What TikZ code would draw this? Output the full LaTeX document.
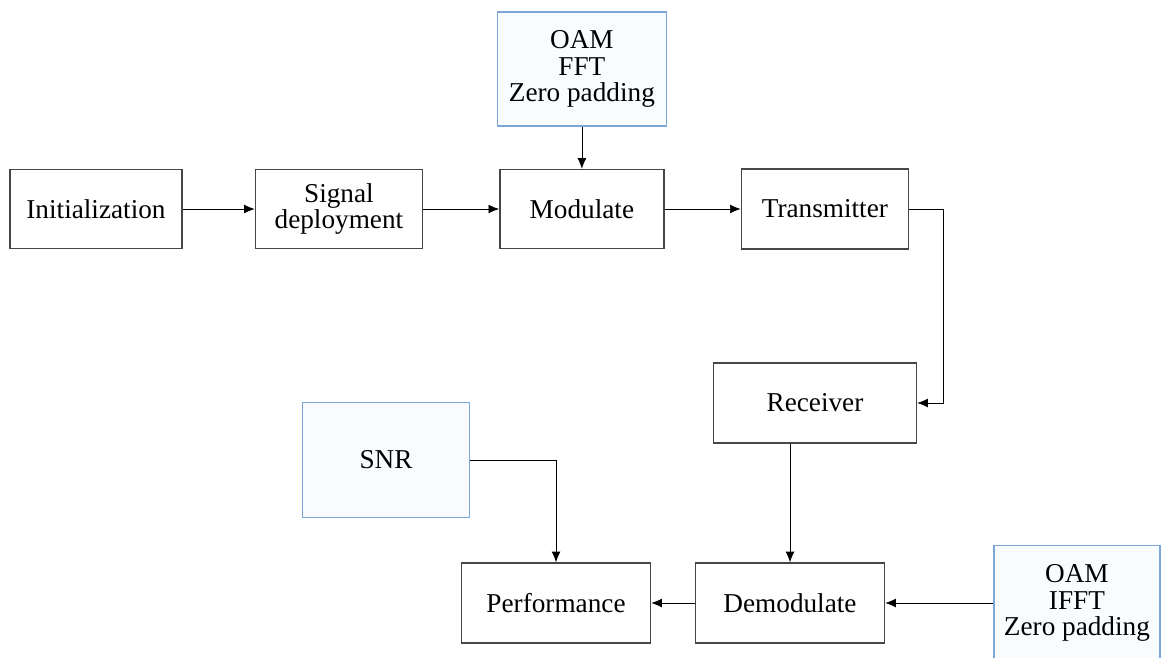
\documentclass[tikz,border=0pt]{standalone}
\usepackage{fontspec}
\setmainfont{Liberation Serif}
\usetikzlibrary{shapes, arrows.meta, positioning}
\definecolor{boxline}{RGB}{70,70,70}
\definecolor{noteline}{RGB}{125,165,215}
\definecolor{notefill}{RGB}{249,252,255}
\tikzstyle{block}=[draw=boxline,line width=0.9pt,fill=white,rectangle,minimum height=1.58cm,inner sep=0pt,align=center]
\tikzstyle{note}=[draw=noteline,line width=0.8pt,fill=notefill,rectangle,minimum height=2.3cm,inner sep=0pt,align=center]
\tikzstyle{every node}=[font=\fontsize{15.5}{15}\selectfont]

\begin{document}
\begin{tikzpicture}[x=0.02cm,y=-0.02cm,>={Latex[length=6pt,width=5pt]},node distance=4.86cm]
  \clip (0,0) rectangle (1161,657);
  \fill[white] (0,0) rectangle (1161,657);
  \node[block, minimum width=3.44cm] at (96,209) (init) {Initialization};
  \node[block, minimum width=3.34cm, right of=init] (deploy) {Signal\\deployment};
  \node[block, minimum width=3.28cm, right of=deploy] (modulate) {Modulate};
  \node[block, minimum width=3.34cm, minimum height=1.6cm, right of=modulate] (trans) {Transmitter};
  \node[note, minimum width=3.38cm, minimum height=2.28cm, above of=modulate, node distance=2.8cm] (oamtx) {OAM\\FFT\\Zero padding};
  \node[block, minimum width=4.06cm, minimum height=1.6cm] at (815,403) (receiver) {Receiver};
  \node[block, minimum width=3.78cm, minimum height=1.6cm] at (790,603) (demod) {Demodulate};
  \node[block, minimum width=3.78cm, minimum height=1.6cm, left of=demod, node distance=4.68cm] (perf) {Performance};
  \node[note, minimum width=3.34cm] at (386,460) (snr) {SNR};
  \node[note, minimum width=3.32cm, right of=demod, node distance=5.74cm] (oamrx) {OAM\\IFFT\\Zero padding};
  \draw[->] (init) -- (deploy);
  \draw[->] (deploy) -- (modulate);
  \draw[->] (modulate) -- (trans);
  \draw[->] (oamtx) -- (modulate);
  \draw[->] (trans.east) -- ++(34,0) |- (receiver.east);
  \draw[->] (demod |- receiver.south) -- (demod.north);
  \draw[->] (snr) -| (perf);
  \draw[->] (demod) -- (perf);
  \draw[->] (oamrx) -- (demod);
\end{tikzpicture}
\end{document}
